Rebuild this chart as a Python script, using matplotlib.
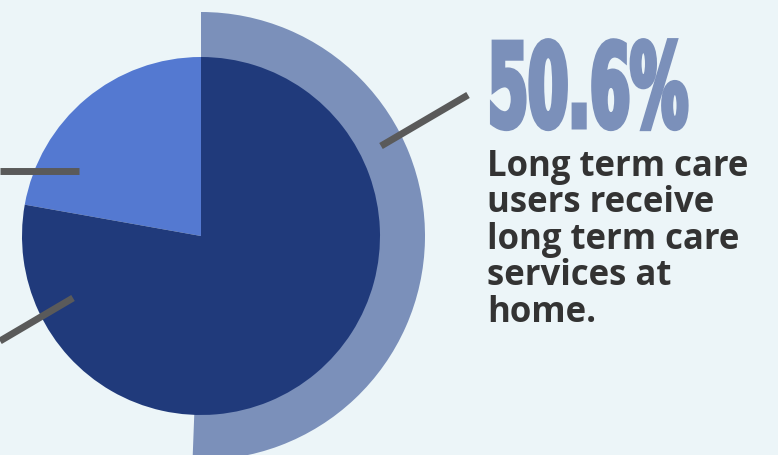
import matplotlib
matplotlib.use("Agg")
import matplotlib.pyplot as plt
from matplotlib import patheffects
from matplotlib.transforms import Affine2D

# data
share_home = 50.6              # outer ring: share receiving care at home
inner_labels = ["other", "main"]
inner_values = [22.2, 77.8]
headline = "50.6%"
caption = "Long term care\nusers receive\nlong term care\nservices at\nhome."

# leader lines (pixel coords, y from top)
leaders = [
    [(381, 147), (468, 96)],
    [(0, 171.5), (79, 171.5)],
    [(0, 342), (73, 299)],
]

W, H = 778, 456
bg = "#ecf5f8"
col_outer = "#7b90ba"
col_inner = ["#5479d1", "#203a7b"]
col_line = "#5a5a5a"
col_text = "#333333"

cx, cy = 201, H - 237


class Stretch(patheffects.AbstractPathEffect):
    # stretch glyphs vertically and thicken them, to fake a heavy condensed face
    def __init__(self, sx, sy, stroke):
        super().__init__()
        self.sx, self.sy, self.stroke = sx, sy, stroke

    def draw_path(self, renderer, gc, tpath, affine, rgbFace=None):
        gc0 = renderer.new_gc()
        gc0.copy_properties(gc)
        gc0.set_linewidth(self.stroke)
        gc0.set_foreground(rgbFace)
        gc0.set_joinstyle("miter")
        renderer.draw_path(gc0, tpath, Affine2D().scale(self.sx, self.sy) + affine, rgbFace)
        gc0.restore()


fig = plt.figure(figsize=(W / 100, H / 100), dpi=100)
fig.patch.set_facecolor(bg)
ax = fig.add_axes([0, 0, 1, 1])
ax.set_facecolor(bg)

# outer ring wedge (behind)
ax.pie([share_home, 100 - share_home], colors=[col_outer, "none"],
       startangle=90, counterclock=False, radius=224, center=(cx, cy),
       wedgeprops=dict(linewidth=0))

# inner pie
wedges, _ = ax.pie(inner_values, colors=col_inner, startangle=90,
                   counterclock=True, radius=179, center=(cx, cy),
                   wedgeprops=dict(linewidth=0))

for (x0, y0), (x1, y1) in leaders:
    ax.plot([x0, x1], [H - y0, H - y1], color=col_line, lw=5.0,
            solid_capstyle="butt", zorder=5)

ax.text(488, H - 128, headline, fontsize=41.5, fontweight="bold",
        family="DejaVu Sans", color=col_outer, ha="left", va="baseline",
        path_effects=[Stretch(1.0, 2.02, 3.6)])

ax.text(487, H - 322, caption, fontsize=25, fontweight="bold",
        family="Open Sans", color=col_text, ha="left", va="baseline",
        linespacing=1.02)

ax.set_xlim(0, W)
ax.set_ylim(0, H)
ax.set_aspect("equal")
ax.axis("off")

fig.savefig("out.png", dpi=100, facecolor=bg)
